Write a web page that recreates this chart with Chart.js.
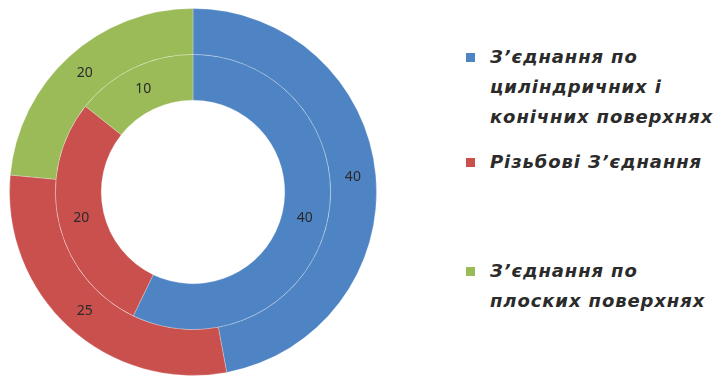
<!DOCTYPE html>
<html>
<head>
<meta charset="utf-8">
<script src="https://cdn.jsdelivr.net/npm/chart.js@4"></script>
<style>
  html, body { margin: 0; padding: 0; background: #fff; }
  body { width: 717px; height: 378px; position: relative; overflow: hidden; }
  #wrap { position: absolute; left: 0; top: 0; width: 386px; height: 378px; }
  #legend { position: absolute; left: 464px; top: 42px; width: 253px; font-family: "DejaVu Sans", sans-serif; font-style: italic; font-weight: bold; font-size: 18px; letter-spacing: 0.9px; line-height: 30px; color: #2b2b2b; white-space: nowrap; }
  .item { position: relative; padding-left: 26px; }
  .box { position: absolute; left: 2px; top: 11px; width: 9px; height: 9px; }
</style>
</head>
<body>
<div id="wrap"><canvas id="chart"></canvas></div>
<div id="legend"></div>
<script>
// Категорії та значення
const categories = ['З’єднання по циліндричних і конічних поверхнях', 'Різьбові З’єднання', 'З’єднання по плоских поверхнях'];
const legendLines = [
    ['З’єднання по', 'циліндричних і', 'конічних поверхнях'],
    ['Різьбові З’єднання'],
    ['З’єднання по', 'плоских поверхнях']
];
const outerValues = [40, 25, 20];
const innerValues = [40, 20, 10];
const colors = ['#4f84c4', '#c9504d', '#9bbb59'];

// підписи значень на сегментах
const valueLabels = {
    id: 'valueLabels',
    afterDatasetsDraw(chart) {
        const ctx = chart.ctx;
        ctx.save();
        ctx.font = '14px "Noto Sans", sans-serif';
        ctx.fillStyle = '#2a2a2a';
        ctx.textAlign = 'center';
        ctx.textBaseline = 'middle';
        chart.data.datasets.forEach((ds, i) => {
            chart.getDatasetMeta(i).data.forEach((arc, j) => {
                const p = arc.tooltipPosition();
                ctx.fillText(ds.data[j], p.x, p.y);
            });
        });
        ctx.restore();
    }
};

new Chart(document.getElementById('chart'), {
    type: 'doughnut',
    data: {
        labels: categories,
        datasets: [
            { data: outerValues, backgroundColor: colors, borderColor: 'rgba(255,255,255,0.25)', borderWidth: 1 },
            { data: innerValues, backgroundColor: colors, borderColor: 'rgba(255,255,255,0.25)', borderWidth: 1 }
        ]
    },
    options: {
        responsive: true,
        maintainAspectRatio: false,
        animation: false,
        cutout: '50%',
        layout: { padding: { top: 8, bottom: 2 } },
        plugins: {
            legend: { display: false },
            tooltip: { enabled: false }
        }
    },
    plugins: [valueLabels]
});

// легенда
const legend = document.getElementById('legend');
const gaps = [0, 15, 79];
legendLines.forEach((lines, i) => {
    const div = document.createElement('div');
    div.className = 'item';
    div.style.marginTop = gaps[i] + 'px';
    div.innerHTML = '<span class="box" style="background:' + colors[i] + '"></span>' + lines.join('<br>');
    legend.appendChild(div);
});
</script>
</body>
</html>
